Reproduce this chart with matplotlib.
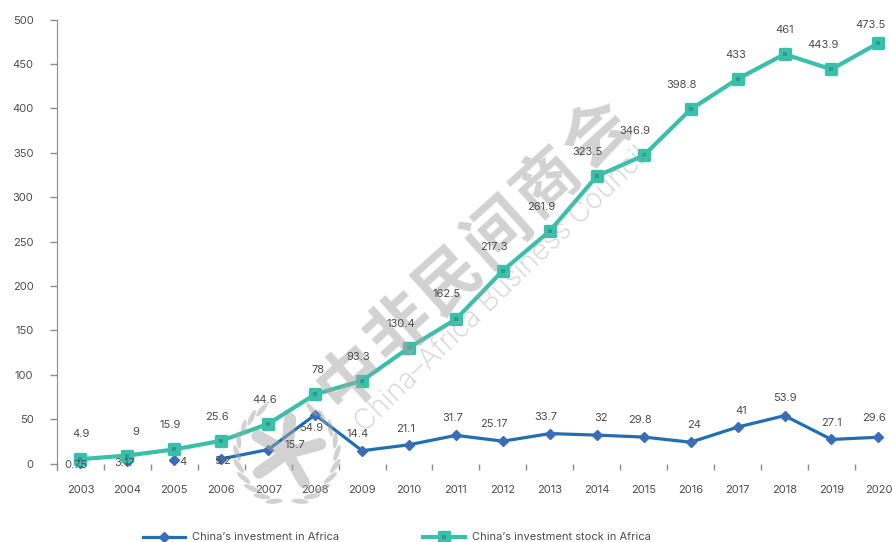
import numpy as np
import matplotlib
matplotlib.use('Agg')
import matplotlib.pyplot as plt
from matplotlib.lines import Line2D
from matplotlib.markers import MarkerStyle
from matplotlib.patches import Ellipse
from matplotlib.transforms import Affine2D

plt.rcParams['font.family'] = ['Inter', 'DejaVu Sans']

years = [2003, 2004, 2005, 2006, 2007, 2008, 2009, 2010, 2011,
         2012, 2013, 2014, 2015, 2016, 2017, 2018, 2019, 2020]
investment = [0.75, 3.17, 4, 5.2, 15.7, 54.9, 14.4, 21.1, 31.7,
              25.17, 33.7, 32, 29.8, 24, 41, 53.9, 27.1, 29.6]
stock = [4.9, 9, 15.9, 25.6, 44.6, 78, 93.3, 130.4, 162.5,
         217.3, 261.9, 323.5, 346.9, 398.8, 433, 461, 443.9, 473.5]

# label offsets from the marker, in pixels (x right, y up)
inv_offsets = [(-4, -2), (-3, -2), (9, -2), (1, -2), (27, 5), (-4, -13), (-4, 17), (-3, 16), (-3, 17),
               (-9, 17), (-4, 17), (4, 17), (-4, 17), (3, 17), (4, 16), (0, 18), (0, 16), (-4, 19)]
stock_offsets = [(1, 25), (8, 24), (-4, 24), (-4, 24), (-4, 24), (3, 24), (-4, 24), (-8, 24), (-9, 25),
                 (-9, 24), (-9, 24), (-9, 24), (-9, 24), (-9, 24), (-2, 24), (0, 24), (-8, 24), (-8, 18)]

BLUE = '#1f6fb2'
BLUE_MARK = '#3a6cb8'
TEAL = '#3abfa9'
TEAL_DARK = '#2a9d90'
TEXT = '#4d4d4d'
AXIS = '#8c8c8c'
GREY = '#a6a6a6'
FS = 8

W, H = 892, 542
fig = plt.figure(figsize=(W / 100, H / 100), dpi=100)
ax = fig.add_axes([57 / W, (H - 470) / H, (W - 57) / W, (470 - 19.5) / H])

x = np.arange(len(years))
round_square = MarkerStyle('s', joinstyle='round')

# the blue line only joins up from 2006, earlier years are loose markers
ax.plot(x[3:], investment[3:], color=BLUE, lw=2.3, zorder=3, clip_on=False)
ax.plot(x, investment, ls='none', marker='D', ms=5, color=BLUE_MARK, zorder=3, clip_on=False)

ax.plot(x, stock, color=TEAL, lw=3, zorder=4, clip_on=False)
ax.plot(x, stock, ls='none', marker=round_square, ms=6.5, color=TEAL, mew=2.4, zorder=4, clip_on=False)
ax.plot(x, stock, ls='none', marker='s', ms=3.2, color=TEAL_DARK, mew=0, zorder=5, clip_on=False)

for i in range(len(years)):
    ax.annotate(str(investment[i]), (x[i], investment[i]), xytext=inv_offsets[i],
                textcoords='offset pixels', ha='center', va='center',
                fontsize=FS, color=TEXT, zorder=8)
    ax.annotate(str(stock[i]), (x[i], stock[i]), xytext=stock_offsets[i],
                textcoords='offset pixels', ha='center', va='center',
                fontsize=FS, color=TEXT, zorder=8)

ax.set_xlim(-0.49, 17.29)
ax.set_ylim(-7.3, 500)
ax.set_yticks(range(0, 501, 50))
ax.set_xticks(x - 0.5)
ax.set_xticklabels([])
ax.set_xticks(x, [str(y) for y in years], minor=True)
ax.tick_params(axis='x', which='major', direction='in', length=4.3, width=1, color=AXIS)
ax.tick_params(axis='x', which='minor', length=0, pad=11, labelsize=FS, labelcolor=TEXT)
ax.tick_params(axis='y', length=5, width=1, color=AXIS, pad=12, labelsize=FS, labelcolor=TEXT)

for side in ['top', 'right', 'bottom']:
    ax.spines[side].set_visible(False)
ax.spines['left'].set_color(AXIS)

# everything below is placed in reference pixels, origin top left
px = Affine2D().scale(1, -1).translate(0, H)

# legend
fig.add_artist(Line2D([143, 185], [537, 537], color=BLUE, lw=2.3, transform=px))
fig.add_artist(Line2D([164], [537], marker='D', ms=5, color=BLUE_MARK, transform=px))
fig.add_artist(Line2D([423, 465], [537, 537], color=TEAL, lw=3, transform=px))
fig.add_artist(Line2D([444], [537], marker=round_square, ms=6.5, mew=2.4, color=TEAL, transform=px))
fig.add_artist(Line2D([444], [537], marker='s', ms=3.2, color=TEAL_DARK, mew=0, transform=px))
fig.text(192, 537, "China’s investment in Africa", transform=px, fontsize=FS, color=TEXT, va='center')
fig.text(472, 537, "China’s investment stock in Africa", transform=px, fontsize=FS, color=TEXT, va='center')

# watermark sits over the lines but under the labels
chars = '中非民间商会'
for c, cx, cy in zip(chars, np.linspace(350, 596, 6), np.linspace(377, 134, 6)):
    ax.text(cx, cy, c, transform=px, fontsize=47, fontweight='bold', color=GREY, alpha=0.5,
            family=['Noto Sans CJK SC', 'DejaVu Sans'], rotation=42, rotation_mode='anchor',
            ha='center', va='center', zorder=6, clip_on=False)
ax.text(503, 290, 'China–Africa Business Council', transform=px, fontsize=20.5, fontweight='light',
        color=GREY, alpha=0.5, rotation=44, rotation_mode='anchor', ha='center', va='center',
        zorder=6, clip_on=False)

# emblem: star arms inside a wreath, one polyline so the centre does not double up
ecx, ecy = 287, 453
star_x, star_y = [], []
for ang in [15, 85, 150, 215, 300]:
    r = np.radians(ang)
    star_x += [ecx, ecx + 34 * np.cos(r)]
    star_y += [ecy, ecy - 34 * np.sin(r)]
ax.add_artist(Line2D(star_x, star_y, color=GREY, lw=8.5, alpha=0.5, solid_capstyle='round',
                     transform=px, zorder=6, clip_on=False))
for ang in np.arange(-75, 256, 15):
    if 65 < ang < 115:
        continue
    r = np.radians(ang)
    tilt = ang + 70 if (ang < 90) else ang - 70
    ax.add_artist(Ellipse((ecx + 50 * np.cos(r), ecy - 50 * np.sin(r)), 17, 5, angle=-tilt,
                          color=GREY, alpha=0.5, lw=0, transform=px, zorder=6, clip_on=False))

fig.savefig('out.png', dpi=100)
